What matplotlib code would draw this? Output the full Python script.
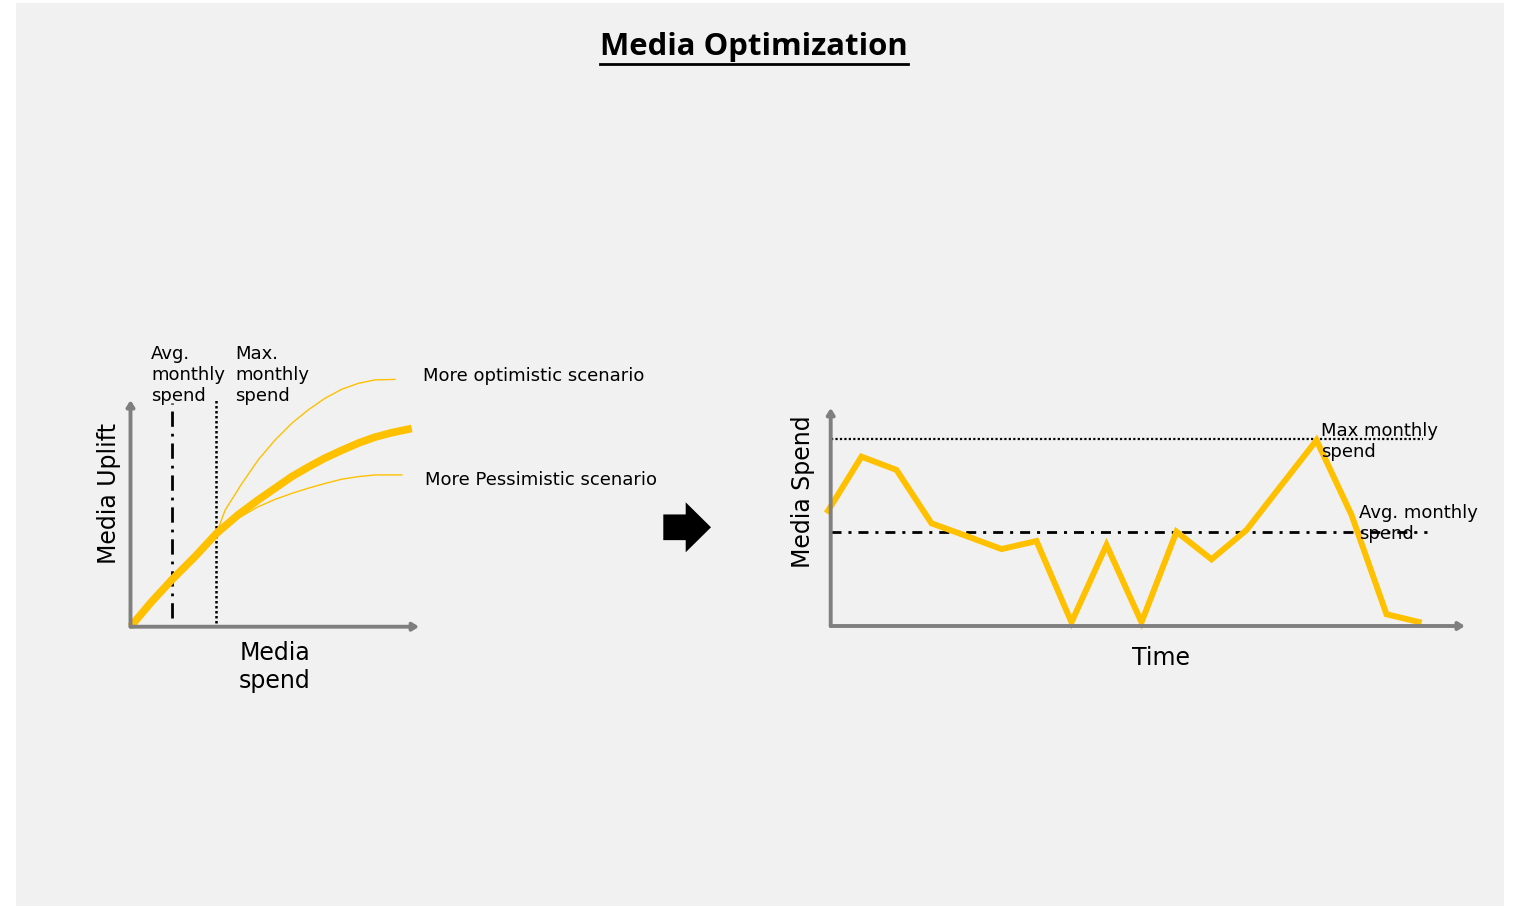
import matplotlib
matplotlib.use("Agg")
import matplotlib.pyplot as plt
import matplotlib.patches as mpatches

W, H = 1516, 907

# Response curves: media spend vs media uplift (arbitrary units)
spend_main = [0.0, 0.49, 0.96, 1.50, 2.0, 2.50, 2.97, 3.36, 3.75, 4.13, 4.52, 4.91, 5.30, 5.69, 6.07, 6.54]
uplift_main = [0.0, 0.58, 1.09, 1.63, 2.17, 2.60, 2.95, 3.22, 3.49, 3.71, 3.92, 4.10, 4.27, 4.41, 4.51, 4.61]
spend_opt = [2.0, 2.20, 2.59, 2.97, 3.36, 3.75, 4.13, 4.52, 4.91, 5.30, 5.69, 6.15]
uplift_opt = [2.17, 2.71, 3.33, 3.88, 4.34, 4.73, 5.04, 5.31, 5.52, 5.66, 5.74, 5.75]
spend_pes = [2.0, 2.43, 2.97, 3.36, 3.75, 4.13, 4.52, 4.91, 5.30, 5.69, 6.31]
uplift_pes = [2.17, 2.48, 2.79, 2.96, 3.10, 3.22, 3.33, 3.43, 3.49, 3.53, 3.53]
avg_spend = 0.96
max_spend = 2.0

# Monthly media spend over time
months = list(range(18))
monthly_spend = [60.4, 90.7, 83.6, 55.0, 48.2, 41.2, 45.5, 2.0, 43.4, 2.0,
                 50.5, 35.7, 51.4, 75.5, 99.5, 59.5, 6.3, 1.8]
avg_monthly = 50.5
max_monthly = 100.0

GOLD = "#FFC000"
AXIS_GREY = "#7f7f7f"
BG = "#f1f1f1"


def fx(x):
    return x / W


def fy(y):
    return 1 - y / H


def axis_arrow(ax, start, end):
    ax.annotate("", xy=end, xytext=start,
                arrowprops=dict(arrowstyle="-|>,head_length=0.35,head_width=0.22",
                                color=AXIS_GREY, lw=2.8, shrinkA=0, shrinkB=0),
                annotation_clip=False)


fig = plt.figure(figsize=(W / 100, H / 100), dpi=100, facecolor="white")

# background panel + decorations in pixel coordinates
bg = fig.add_axes([0, 0, 1, 1], zorder=-1)
bg.set_xlim(0, W)
bg.set_ylim(H, 0)
bg.axis("off")
bg.add_patch(mpatches.Rectangle((16, 3), 1488, 903, facecolor=BG, edgecolor="none"))
bg.add_patch(mpatches.FancyArrow(663.3, 527.3, 47.7, 0, width=25.7, head_width=50,
                                 head_length=25.3, length_includes_head=True,
                                 facecolor="black", edgecolor="none"))

# left: response curve
ax1 = fig.add_axes([fx(120), fy(640), 310 / W, 280 / H])
ax1.set_xlim(-0.244, 6.965)
ax1.set_ylim(-0.309, 6.202)
ax1.axis("off")
ax1.patch.set_alpha(0)

ax1.plot([avg_spend, avg_spend], [0.2, 5.2], color="black", lw=2,
         linestyle=(0, (5.5, 2.5, 1, 2.5)))
ax1.plot([max_spend, max_spend], [0.09, 5.27], color="black", lw=1.8,
         linestyle=(0, (1, 1)))
ax1.plot(spend_opt, uplift_opt, color=GOLD, lw=1.0, solid_joinstyle="round")
ax1.plot(spend_pes, uplift_pes, color=GOLD, lw=1.0, solid_joinstyle="round")
ax1.plot(spend_main, uplift_main, color=GOLD, lw=5.5, solid_capstyle="butt",
         solid_joinstyle="round")
axis_arrow(ax1, (0, 0), (6.71, 0))
axis_arrow(ax1, (0, 0), (0, 5.27))

# right: spend over time
ax2 = fig.add_axes([fx(800), fy(640), 680 / W, 240 / H])
ax2.set_xlim(-0.757, 18.671)
ax2.set_ylim(-7.5, 121.05)
ax2.axis("off")
ax2.patch.set_alpha(0)

ax2.plot([0.12, 17.04], [max_monthly, max_monthly], color="black", lw=1.6,
         linestyle=(0, (1, 1)))
ax2.plot([0.12, 17.16], [avg_monthly, avg_monthly], color="black", lw=2,
         linestyle=(0, (3.6, 2.5, 1.1, 2.5)))
ax2.plot(months, monthly_spend, color=GOLD, lw=4.3, solid_joinstyle="miter",
         solid_capstyle="butt")
axis_arrow(ax2, (0.12, 0), (18.24, 0))
axis_arrow(ax2, (0.12, 0), (0.12, 116.8))

# labels
small = dict(fontsize=13, color="black", family="DejaVu Sans")
big = dict(fontsize=17, color="black", family="DejaVu Sans")
fig.text(fx(151), fy(345), "Avg.\nmonthly\nspend", ha="left", va="top", **small)
fig.text(fx(235), fy(345), "Max.\nmonthly\nspend", ha="left", va="top", **small)
fig.text(fx(423), fy(376), "More optimistic scenario", ha="left", va="center", **small)
fig.text(fx(425), fy(480), "More Pessimistic scenario", ha="left", va="center", **small)
fig.text(fx(109), fy(493), "Media Uplift", rotation=90, ha="center", va="center", **big)
fig.text(fx(275), fy(667), "Media\nspend", ha="center", va="center", **big)
fig.text(fx(803), fy(492), "Media Spend", rotation=90, ha="center", va="center", **big)
fig.text(fx(1161), fy(658), "Time", ha="center", va="center", **big)
fig.text(fx(1321), fy(422), "Max monthly\nspend", ha="left", va="top", **small)
fig.text(fx(1359), fy(504), "Avg. monthly\nspend", ha="left", va="top", **small)

# underlined title
title = fig.text(fx(754), fy(47), "Media Optimization", ha="center", va="center",
                 fontsize=22, fontweight="bold", family="Open Sans")
fig.canvas.draw()
bb = title.get_window_extent()
title.set_fontsize(22 * 308 / bb.width)
fig.canvas.draw()
bb = title.get_window_extent()
bg.plot([bb.x0, bb.x1], [64, 64], color="black", lw=2)

fig.savefig("out.png", dpi=100, facecolor="white")
